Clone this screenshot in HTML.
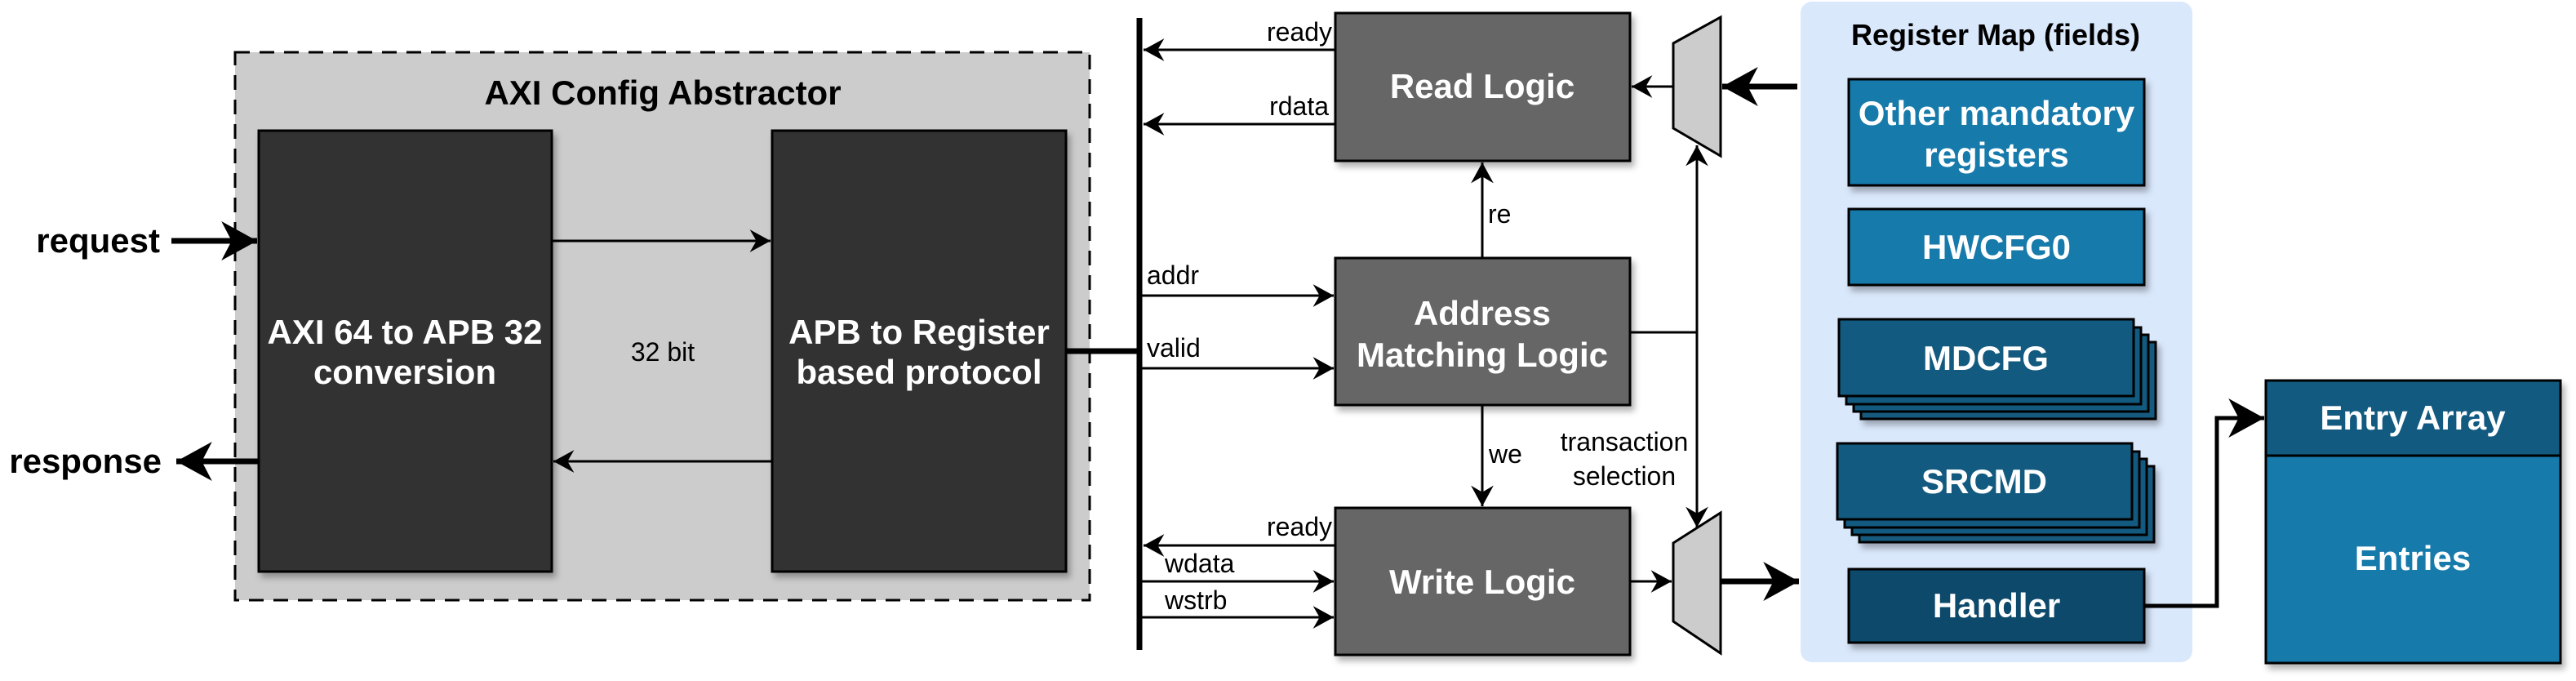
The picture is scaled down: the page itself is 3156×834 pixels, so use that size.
<!DOCTYPE html>
<html><head><meta charset="utf-8"><style>
html,body{margin:0;padding:0;background:#fff;}
svg{display:block;}
text{font-family:"Liberation Sans",Arial,sans-serif;}
.b{font-weight:bold;font-size:42px;fill:#fff;}
.bk{font-weight:bold;font-size:42px;fill:#000;}
.n{font-size:32px;fill:#000;}
</style></head><body>
<svg width="3156" height="834" viewBox="0 0 3156 834" xmlns="http://www.w3.org/2000/svg">
<defs>
<marker id="a" markerUnits="userSpaceOnUse" markerWidth="30" markerHeight="30" refX="0" refY="0" viewBox="-24 -13 26 26" orient="auto">
<path d="M0,0 L-22,-12 L-15,0 L-22,12 Z" fill="#000"/></marker>
<marker id="A" markerUnits="userSpaceOnUse" markerWidth="50" markerHeight="50" refX="0" refY="0" viewBox="-44 -24 46 48" orient="auto">
<path d="M0,0 L-42,-23 L-30,0 L-42,23 Z" fill="#000"/></marker>
<filter id="sh" x="-10%" y="-10%" width="130%" height="130%"><feDropShadow dx="4" dy="6" stdDeviation="4" flood-color="#000" flood-opacity="0.3"/></filter>
</defs>

<!-- AXI Config Abstractor -->
<rect x="288" y="64" width="1047" height="671" fill="#cccccc" stroke="#000" stroke-width="3" stroke-dasharray="18,12"/>
<text x="812" y="128" class="bk" text-anchor="middle">AXI Config Abstractor</text>
<rect x="317" y="160" width="359" height="540" fill="#333" stroke="#000" stroke-width="3" filter="url(#sh)"/>
<rect x="946" y="160" width="360" height="540" fill="#333" stroke="#000" stroke-width="3" filter="url(#sh)"/>
<text x="496" y="421" class="b" text-anchor="middle">AXI 64 to APB 32</text>
<text x="496" y="470" class="b" text-anchor="middle">conversion</text>
<text x="1126" y="421" class="b" text-anchor="middle">APB to Register</text>
<text x="1126" y="470" class="b" text-anchor="middle">based protocol</text>
<text x="812" y="442" class="n" text-anchor="middle">32 bit</text>
<line x1="676" y1="295" x2="944" y2="295" stroke="#000" stroke-width="3" marker-end="url(#a)"/>
<line x1="946" y1="565" x2="678" y2="565" stroke="#000" stroke-width="3" marker-end="url(#a)"/>
<line x1="210" y1="295" x2="315" y2="295" stroke="#000" stroke-width="7" marker-end="url(#A)"/>
<line x1="317" y1="565" x2="216" y2="565" stroke="#000" stroke-width="7" marker-end="url(#A)"/>
<text x="196" y="309" class="bk" text-anchor="end">request</text>
<text x="198" y="579" class="bk" text-anchor="end">response</text>

<!-- bus -->
<line x1="1396" y1="22" x2="1396" y2="796" stroke="#000" stroke-width="7"/>
<line x1="1306" y1="430" x2="1396" y2="430" stroke="#000" stroke-width="7"/>

<!-- logic boxes -->
<rect x="1636" y="16" width="361" height="181" fill="#666" stroke="#000" stroke-width="3" filter="url(#sh)"/>
<rect x="1636" y="316" width="361" height="180" fill="#666" stroke="#000" stroke-width="3" filter="url(#sh)"/>
<rect x="1636" y="622" width="361" height="180" fill="#666" stroke="#000" stroke-width="3" filter="url(#sh)"/>
<text x="1816" y="120" class="b" text-anchor="middle">Read Logic</text>
<text x="1816" y="398" class="b" text-anchor="middle">Address</text>
<text x="1816" y="449" class="b" text-anchor="middle">Matching Logic</text>
<text x="1816" y="727" class="b" text-anchor="middle">Write Logic</text>

<line x1="1636" y1="61" x2="1401" y2="61" stroke="#000" stroke-width="3" marker-end="url(#a)"/>
<line x1="1636" y1="152" x2="1401" y2="152" stroke="#000" stroke-width="3" marker-end="url(#a)"/>
<text x="1632" y="50" class="n" text-anchor="end">ready</text>
<text x="1628" y="141" class="n" text-anchor="end">rdata</text>
<line x1="1399" y1="362" x2="1634" y2="362" stroke="#000" stroke-width="3" marker-end="url(#a)"/>
<line x1="1399" y1="451" x2="1634" y2="451" stroke="#000" stroke-width="3" marker-end="url(#a)"/>
<text x="1405" y="348" class="n">addr</text>
<text x="1405" y="437" class="n">valid</text>
<line x1="1636" y1="668" x2="1401" y2="668" stroke="#000" stroke-width="3" marker-end="url(#a)"/>
<line x1="1399" y1="712" x2="1634" y2="712" stroke="#000" stroke-width="3" marker-end="url(#a)"/>
<line x1="1399" y1="756" x2="1634" y2="756" stroke="#000" stroke-width="3" marker-end="url(#a)"/>
<text x="1632" y="656" class="n" text-anchor="end">ready</text>
<text x="1427" y="701" class="n">wdata</text>
<text x="1427" y="746" class="n">wstrb</text>

<line x1="1816" y1="316" x2="1816" y2="199" stroke="#000" stroke-width="3" marker-end="url(#a)"/>
<text x="1823" y="273" class="n">re</text>
<line x1="1816" y1="496" x2="1816" y2="620" stroke="#000" stroke-width="3" marker-end="url(#a)"/>
<text x="1824" y="567" class="n">we</text>

<!-- muxes -->
<polygon points="2050,53 2108,21 2108,191 2050,157" fill="#ccc" stroke="#000" stroke-width="3"/>
<polygon points="2050,665 2108,628 2108,800 2050,761" fill="#ccc" stroke="#000" stroke-width="3"/>
<line x1="2050" y1="106" x2="1999" y2="106" stroke="#000" stroke-width="3" marker-end="url(#a)"/>
<line x1="2202" y1="106" x2="2110" y2="106" stroke="#000" stroke-width="7" marker-end="url(#A)"/>
<line x1="1997" y1="712" x2="2048" y2="712" stroke="#000" stroke-width="3" marker-end="url(#a)"/>
<line x1="2108" y1="712" x2="2204" y2="712" stroke="#000" stroke-width="7" marker-end="url(#A)"/>
<line x1="1997" y1="407" x2="2079" y2="407" stroke="#000" stroke-width="3"/>
<line x1="2079" y1="407" x2="2079" y2="178" stroke="#000" stroke-width="3" marker-end="url(#a)"/>
<line x1="2079" y1="407" x2="2079" y2="646" stroke="#000" stroke-width="3" marker-end="url(#a)"/>
<text x="1990" y="552" class="n" text-anchor="middle">transaction</text>
<text x="1990" y="594" class="n" text-anchor="middle">selection</text>

<!-- Register map -->
<rect x="2206" y="2" width="480" height="809" rx="14" fill="#dae8fc"/>
<text x="2445" y="55" text-anchor="middle" style="font-weight:bold;font-size:36px;fill:#000">Register Map (fields)</text>
<rect x="2265" y="97" width="362" height="130" fill="#177aab" stroke="#000" stroke-width="3" filter="url(#sh)"/>
<text x="2446" y="153" class="b" text-anchor="middle">Other mandatory</text>
<text x="2446" y="204" class="b" text-anchor="middle">registers</text>
<rect x="2265" y="256" width="362" height="93" fill="#177aab" stroke="#000" stroke-width="3" filter="url(#sh)"/>
<text x="2446" y="317" class="b" text-anchor="middle">HWCFG0</text>

<g stroke="#000" stroke-width="3" fill="#125a80">
<rect x="2280" y="419" width="361" height="94" filter="url(#sh)"/>
<rect x="2271" y="410" width="361" height="94"/>
<rect x="2262" y="401" width="361" height="94"/>
<rect x="2253" y="391" width="361" height="94"/>
<rect x="2278" y="571" width="361" height="93" filter="url(#sh)"/>
<rect x="2269" y="562" width="361" height="93"/>
<rect x="2260" y="553" width="361" height="93"/>
<rect x="2251" y="543" width="361" height="93"/>
</g>
<text x="2433" y="453" class="b" text-anchor="middle">MDCFG</text>
<text x="2431" y="604" class="b" text-anchor="middle">SRCMD</text>
<rect x="2265" y="697" width="362" height="90" fill="#0f4a6a" stroke="#000" stroke-width="3" filter="url(#sh)"/>
<text x="2446" y="756" class="b" text-anchor="middle">Handler</text>

<!-- Entry array -->
<rect x="2776" y="466" width="361" height="346" fill="#177aab" stroke="#000" stroke-width="3" filter="url(#sh)"/>
<rect x="2776" y="466" width="361" height="92" fill="#125a80" stroke="#000" stroke-width="3"/>
<text x="2956" y="526" class="b" text-anchor="middle">Entry Array</text>
<text x="2956" y="698" class="b" text-anchor="middle">Entries</text>
<polyline points="2627,742 2716,742 2716,512 2774,512" fill="none" stroke="#000" stroke-width="5" marker-end="url(#A)"/>
</svg>
</body></html>
